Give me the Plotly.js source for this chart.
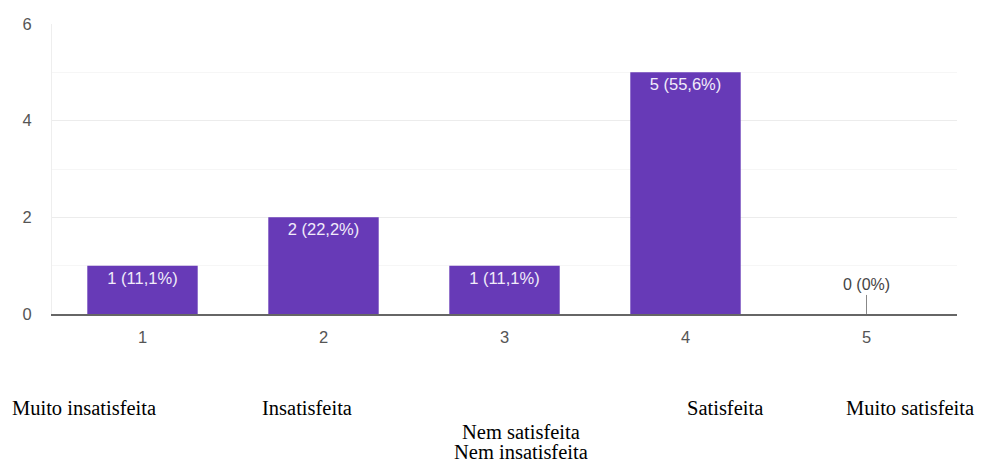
<!DOCTYPE html>
<html>
<head>
<meta charset="utf-8">
<script src="https://cdn.plot.ly/plotly-3.0.1.min.js"></script>
<style>html,body{margin:0;padding:0;background:#fff;}#chart{width:982px;height:462px;}</style>
</head>
<body>
<div id="chart"></div>
<script>
const categories = ["1", "2", "3", "4", "5"];
const counts = [1, 2, 1, 5, 0];
const percentLabels = ["11,1%", "22,2%", "11,1%", "55,6%", "0%"];
const yTicks = [0, 2, 4, 6];
const scaleLabels = ["Muito insatisfeita", "Insatisfeita", "Nem satisfeita", "Nem insatisfeita", "Satisfeita", "Muito satisfeita"];

const barText = counts.map((c, i) => c > 0 ? c + " (" + percentLabels[i] + ")" : "");
const sansFont = "Liberation Sans, Arial, sans-serif";

const trace = {
  type: "bar",
  x: categories,
  y: counts,
  text: barText,
  textposition: "inside",
  insidetextanchor: "end",
  textangle: 0,
  insidetextfont: {family: sansFont, size: 16.5, color: "#f1ecfa"},
  marker: {color: "#673ab7"},
  width: 0.61,
  hoverinfo: "none",
  cliponaxis: false
};

const annotations = [];
counts.forEach((c, i) => {
  if (c === 0) {
    annotations.push({
      x: i, y: 0.001, xref: "x", yref: "y",
      text: c + " (" + percentLabels[i] + ")",
      showarrow: true, arrowhead: 0, arrowwidth: 1, arrowcolor: "#888",
      ax: 0, ay: -19, yanchor: "bottom",
      font: {family: sansFont, size: 16, color: "#444"}
    });
  }
});
// bottom scale labels (serif text below the chart)
const labelPos = [
  {x: 84, y: 408},
  {x: 307, y: 408},
  {x: 521, y: 432},
  {x: 521, y: 452},
  {x: 725, y: 408},
  {x: 910, y: 408}
];
scaleLabels.forEach((t, i) => {
  annotations.push({
    xref: "paper", yref: "paper",
    x: (labelPos[i].x - 52) / 905,
    y: (314 - labelPos[i].y) / 290,
    xanchor: "center", yanchor: "middle",
    text: t, showarrow: false,
    font: {family: "Liberation Serif, Times New Roman, serif", size: 20.5, color: "#000"}
  });
});

const layout = {
  width: 982, height: 462,
  margin: {l: 52, r: 25, t: 24, b: 148},
  paper_bgcolor: "#fff", plot_bgcolor: "#fff",
  showlegend: false,
  xaxis: {
    type: "category",
    range: [-0.5, 4.5],
    showgrid: false,
    zeroline: false,
    showline: true, linecolor: "#666", linewidth: 2,
    ticks: "", ticklabelstandoff: 7,
    tickfont: {family: sansFont, size: 16.5, color: "#555"},
    fixedrange: true
  },
  yaxis: {
    range: [0, 6],
    tickvals: yTicks,
    ticktext: yTicks.map(String),
    showgrid: true, gridcolor: "#ececec", gridwidth: 1,
    minor: {dtick: 1, showgrid: true, gridcolor: "#f6f6f6", gridwidth: 1},
    zeroline: false,
    showline: true, linecolor: "#eeeeee", linewidth: 1,
    ticks: "", ticklabelstandoff: 16,
    tickfont: {family: sansFont, size: 16.5, color: "#555"},
    fixedrange: true
  },
  annotations: annotations
};

Plotly.newPlot("chart", [trace], layout, {displayModeBar: false, staticPlot: true});
</script>
</body>
</html>
